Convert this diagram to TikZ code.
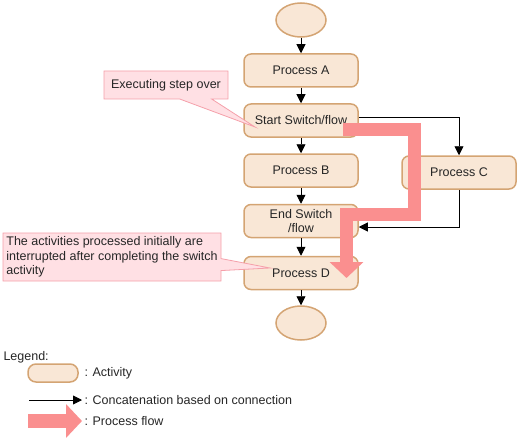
\documentclass[tikz,border=0pt]{standalone}
\usepackage{fontspec}
\setmainfont{Liberation Sans}
\usepackage{tikz}
\usetikzlibrary{shapes.geometric,shapes.callouts,arrows.meta}

\definecolor{boxfill}{RGB}{249,231,214}
\definecolor{boxdraw}{RGB}{212,164,115}
\definecolor{notefill}{RGB}{255,224,228}
\definecolor{notedraw}{RGB}{245,160,170}
\definecolor{flowpink}{RGB}{250,143,143}

\begin{document}
\begin{tikzpicture}[x=1pt, y=-1pt,
	>={Triangle[length=9pt,width=9pt]},
	every node/.style={font=\fontsize{12.5}{14.5}\selectfont, text=black!85},
	activity/.style={ellipse, minimum width=50pt, minimum height=34pt,
		fill=boxfill, draw=boxdraw, line width=1.5pt},
	process/.style={rectangle, rounded corners=7pt, minimum width=114pt,
		minimum height=33pt, fill=boxfill, draw=boxdraw, line width=1.5pt, align=center},
	note/.style={rectangle callout, fill=notefill, draw=notedraw, line width=0.8pt,
		inner xsep=3pt},
	flow/.style={draw=flowpink, line width=13pt, line join=miter,
		-{Triangle[length=16pt,width=33pt]}}]
	\useasboundingbox (0,0) rectangle (519,441);
	% activities
	\node[activity] (1) at (301,20) {};
	\node[process] (2) at (301,70.5) {Process A};
	\node[process] (3) at (301,120.5) {Start Switch/flow};
	\node[process] (4) at (301,170.5) {Process B};
	\node[process] (5) at (301,221) {End Switch\\/flow};
	\node[process] (6) at (301,273) {Process D};
	\node[activity] (7) at (301,323) {};
	\node[process] (8) at (459,172.5) {Process C};
	% connections
	\draw[line width=0.3mm,->] (1) -- (2);
	\draw[line width=0.3mm,->] (2) -- (3);
	\draw[line width=0.3mm,->] (3) -- (4);
	\draw[line width=0.3mm,->] (4) -- (5);
	\draw[line width=0.3mm,->] (5) -- (6);
	\draw[line width=0.3mm,->] (6) -- (7);
	\draw[line width=0.3mm,->] ([yshift=3pt]3.east) -| (8);
	\draw[line width=0.3mm,->] (8) |- ([yshift=-6pt]5.east);
	% notes
	\node[note, minimum width=124pt, minimum height=28pt,
		callout absolute pointer={(255,127)}, callout pointer width=32pt]
		(9) at (166,85) {Executing step over};
	\node[note, minimum width=218pt, minimum height=48pt, align=left,
		callout absolute pointer={(270,268)}, callout pointer width=12pt]
		(10) at (112,257) {The activities processed initially are\\interrupted after completing the switch\\activity};
	% process flow
	\coordinate (f1) at (343,129.5);
	\coordinate (f2) at (346.5,278);
	\draw[flow] (f1) -| (414.5,214) -| (f2);
	% legend
	\node[anchor=west] (11) at (0,357) {Legend:};
	\node[process, minimum width=50pt, minimum height=18pt, rounded corners=8pt] (12) at (53,373) {};
	\node[anchor=west] (13) at (81,373) {: Activity};
	\coordinate (14) at (29,400);
	\node[anchor=west] (15) at (81,400) {: Concatenation based on connection};
	\draw[line width=0.3mm,->] (14) -- ([xshift=1pt]15.west);
	\coordinate (16) at (28,421);
	\node[anchor=west] (17) at (81,421) {: Process flow};
	\draw[flow, line width=14pt] (16) -- ([xshift=1pt]17.west);
\end{tikzpicture}
\end{document}
